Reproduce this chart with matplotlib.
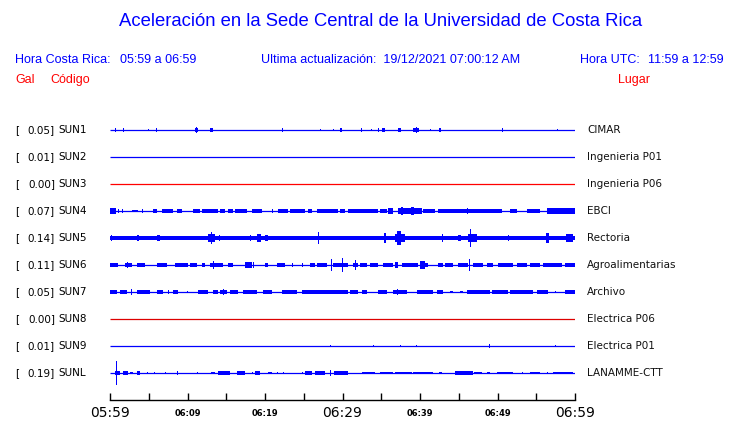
import matplotlib
matplotlib.use("Agg")
import matplotlib.pyplot as plt

# ---------------- data ----------------
stations = ["SUN1", "SUN2", "SUN3", "SUN4", "SUN5", "SUN6", "SUN7", "SUN8", "SUN9", "SUNL"]
peak_gal = [0.05, 0.01, 0.00, 0.07, 0.14, 0.11, 0.05, 0.00, 0.01, 0.19]
places = ["CIMAR", "Ingenieria P01", "Ingenieria P06", "EBCI", "Rectoria",
          "Agroalimentarias", "Archivo", "Electrica P06", "Electrica P01", "LANAMME-CTT"]
trace_colors = ["#0000ff", "#0000ff", "#ff0000", "#0000ff", "#0000ff",
                "#0000ff", "#0000ff", "#dd0000", "#0000ff", "#0000ff"]

time_span = [0, 60]                     # minutes after 05:59
tick_minutes = list(range(0, 61, 5))
tick_labels = ["05:59", "", "06:09", "", "06:19", "", "06:29",
               "", "06:39", "", "06:49", "", "06:59"]
major_labels = ["05:59", "06:29", "06:59"]

# bursts: (start minute, end minute, half amplitude in gal)
sun1 = [(0.65, 0.65, 0.03), (1.68, 1.68, 0.03), (4.9, 5.0, 0.02), (6.0, 6.1, 0.025),
        (11.0, 11.4, 0.03), (11.1, 11.2, 0.045), (12.9, 13.3, 0.035), (22.2, 22.2, 0.025),
        (27.1, 27.1, 0.02), (28.9, 28.9, 0.02), (29.7, 29.9, 0.025), (32.5, 32.5, 0.025),
        (33.7, 33.7, 0.02), (34.6, 34.7, 0.025), (35.1, 35.5, 0.03), (37.2, 37.5, 0.025),
        (39.1, 39.9, 0.03), (39.5, 39.6, 0.05), (41.3, 41.3, 0.02), (42.5, 42.7, 0.03),
        (50.7, 50.7, 0.03), (57.7, 57.7, 0.02)]
sun2 = []
sun3 = []
sun4 = [(0.0, 0.8, 0.045), (1.0, 1.1, 0.03), (1.55, 1.6, 0.025), (2.84, 3.61, 0.02),
        (4.13, 4.2, 0.025), (5.55, 6.06, 0.03), (6.71, 8.13, 0.035), (8.65, 9.29, 0.03),
        (10.71, 11.61, 0.035), (11.87, 13.94, 0.035), (14.19, 14.84, 0.03), (15.23, 15.87, 0.03),
        (16.13, 17.68, 0.035), (18.32, 19.61, 0.03), (20.9, 21.0, 0.03), (21.68, 22.97, 0.03),
        (23.23, 25.16, 0.035), (25.55, 26.06, 0.03), (26.71, 29.42, 0.03), (29.68, 30.32, 0.03),
        (30.71, 34.58, 0.035), (34.84, 35.74, 0.03), (35.87, 36.52, 0.045), (37.16, 40.26, 0.05),
        (37.6, 37.8, 0.07), (38.9, 39.2, 0.065), (40.39, 41.94, 0.035), (42.32, 50.58, 0.035),
        (46.0, 46.2, 0.04), (51.61, 52.52, 0.03), (53.81, 55.48, 0.03), (56.39, 60.0, 0.04),
        (57.0, 57.3, 0.05), (58.8, 59.0, 0.05)]
sun5 = [(0.0, 60.0, 0.035), (0.1, 0.3, 0.05), (3.5, 3.7, 0.05), (6.0, 6.5, 0.055),
        (12.6, 13.6, 0.06), (13.0, 13.15, 0.1), (14.0, 14.2, 0.045), (18.0, 18.2, 0.05),
        (19.0, 19.5, 0.06), (20.0, 20.4, 0.05), (26.8, 26.9, 0.1), (35.3, 35.6, 0.08),
        (36.8, 38.0, 0.06), (37.0, 37.5, 0.11), (42.8, 43.0, 0.07), (44.9, 45.3, 0.055),
        (46.2, 47.4, 0.07), (46.5, 46.6, 0.14), (51.3, 51.5, 0.05), (56.3, 56.6, 0.08),
        (58.9, 59.8, 0.065)]
sun6 = [(0.0, 1.03, 0.03), (1.94, 2.84, 0.03), (2.2, 2.3, 0.045), (3.48, 4.52, 0.03),
        (6.06, 7.35, 0.025), (8.39, 10.06, 0.03), (10.32, 11.23, 0.025), (11.87, 12.26, 0.025),
        (12.9, 14.58, 0.035), (13.3, 13.4, 0.06), (15.23, 15.87, 0.025), (17.42, 18.32, 0.04),
        (18.5, 18.6, 0.04), (20.0, 20.39, 0.03), (21.55, 22.58, 0.03), (23.48, 23.5, 0.025),
        (24.77, 24.8, 0.025), (25.81, 26.45, 0.03), (26.71, 28.0, 0.035), (28.6, 28.65, 0.09),
        (28.77, 30.32, 0.035), (30.0, 30.1, 0.11), (30.32, 30.71, 0.03), (31.35, 31.97, 0.035),
        (31.6, 31.7, 0.08), (32.26, 33.16, 0.025), (33.55, 34.58, 0.025), (35.23, 36.52, 0.03),
        (36.77, 37.16, 0.05), (37.68, 39.74, 0.03), (40.0, 40.65, 0.06), (40.65, 41.0, 0.03),
        (42.32, 42.97, 0.025), (43.23, 44.26, 0.03), (44.9, 46.19, 0.03), (46.4, 46.5, 0.09),
        (46.84, 48.13, 0.03), (48.65, 49.42, 0.025), (50.06, 52.0, 0.025), (52.52, 53.81, 0.03),
        (54.19, 55.48, 0.025), (55.87, 58.32, 0.025), (58.71, 60.0, 0.03)]
sun7 = [(0.0, 0.9, 0.03), (1.29, 2.19, 0.03), (2.7, 2.8, 0.045), (3.48, 5.16, 0.03),
        (6.06, 6.84, 0.025), (7.5, 7.6, 0.025), (8.13, 8.77, 0.03), (9.94, 10.0, 0.02),
        (11.35, 12.65, 0.025), (13.29, 13.94, 0.03), (14.19, 15.1, 0.035), (14.6, 14.7, 0.05),
        (15.48, 16.52, 0.03), (17.16, 18.97, 0.03), (19.74, 20.9, 0.025), (22.19, 24.13, 0.03),
        (24.77, 29.68, 0.03), (29.68, 30.71, 0.035), (30.97, 31.97, 0.025), (32.52, 33.16, 0.025),
        (34.58, 35.74, 0.03), (36.52, 38.32, 0.03), (37.1, 37.2, 0.05), (39.61, 41.68, 0.03),
        (42.19, 42.97, 0.03), (43.87, 44.26, 0.02), (45.16, 45.55, 0.02), (46.06, 49.03, 0.025),
        (49.29, 51.35, 0.025), (51.61, 54.58, 0.025), (55.1, 56.52, 0.025), (57.42, 57.5, 0.02),
        (58.71, 60.0, 0.025)]
sun8 = []
sun9 = [(28.4, 28.4, 0.015), (34.06, 34.06, 0.015), (37.42, 37.42, 0.015),
        (39.61, 39.61, 0.015), (49.03, 49.03, 0.025), (57.42, 57.42, 0.015)]
sunl = [(0.9, 0.9, 0.19), (0.65, 1.29, 0.035), (1.68, 2.32, 0.025), (2.58, 2.97, 0.02),
        (3.48, 3.87, 0.025), (4.77, 4.8, 0.02), (5.68, 5.7, 0.02), (7.1, 7.1, 0.02),
        (8.65, 8.77, 0.025), (11.23, 11.23, 0.015), (13.03, 13.55, 0.02), (13.94, 15.48, 0.025),
        (16.39, 17.42, 0.025), (18.32, 18.4, 0.02), (18.71, 19.35, 0.025), (20.39, 20.9, 0.02),
        (21.55, 21.6, 0.02), (22.32, 22.35, 0.02), (24.77, 24.8, 0.015), (25.16, 26.06, 0.025),
        (26.45, 27.74, 0.025), (28.39, 28.5, 0.045), (28.9, 30.71, 0.025), (32.52, 34.19, 0.02),
        (34.84, 36.52, 0.02), (36.77, 38.97, 0.02), (39.1, 41.68, 0.02), (42.5, 42.8, 0.02),
        (44.52, 46.84, 0.03), (47.0, 48.0, 0.02), (48.6, 49.0, 0.02), (49.94, 52.0, 0.02),
        (53.16, 53.2, 0.02), (54.19, 55.48, 0.02), (56.39, 56.4, 0.02), (57.16, 59.74, 0.02)]
bursts = [sun1, sun2, sun3, sun4, sun5, sun6, sun7, sun8, sun9, sunl]

# ---------------- figure ----------------
W, H = 740, 423
fig = plt.figure(figsize=(W / 100, H / 100), dpi=100)
ax = fig.add_axes([110 / W, (H - 400) / H, 465 / W, 285 / H])

GAIN = 63 / 27          # row units per gal
n = len(stations)
for i, (name, col, b) in enumerate(zip(stations, trace_colors, bursts)):
    row = n - 1 - i
    ax.plot(time_span, [row, row], color=col, lw=0.9, solid_capstyle="butt", zorder=2)
    for t0, t1, a in b:
        w = max(t1 - t0, 0.13)
        ax.bar((t0 + t1) / 2, 2 * a * GAIN, bottom=row - a * GAIN, width=w,
               color=col, linewidth=0, zorder=3)

ax.set_xlim(time_span)
ax.set_ylim(-1.0, n - 1 + 15 / 27)
for s in ["top", "left", "right"]:
    ax.spines[s].set_visible(False)
ax.spines["bottom"].set_linewidth(1.0)
ax.set_yticks([])
ax.set_xticks(tick_minutes)
ax.set_xticklabels(tick_labels)
ax.tick_params(axis="x", direction="in", length=5, width=1.0, pad=9.5)
for lbl in ax.get_xticklabels():
    lbl.set_va("center")
    if lbl.get_text() in major_labels:
        lbl.set_fontsize(10)
        lbl.set_fontfamily("DejaVu Sans")
    else:
        lbl.set_fontsize(6)
        lbl.set_fontweight("bold")

# left and right labels
def fy(px):
    return 1 - px / H

for i in range(n):
    y = fy(130 + 27 * i)
    fig.text(15 / W, y, "[", fontsize=7.5, va="center", ha="left", color="black")
    fig.text(55 / W, y, f"{peak_gal[i]:.2f}]", fontsize=7.5, va="center", ha="right", color="black")
    fig.text(58 / W, y, stations[i], fontsize=7.5, va="center", ha="left", color="black")
    fig.text(587 / W, y, places[i], fontsize=7.5, va="center", ha="left", color="#111111")

# header
hfont = "Liberation Sans"
fig.text(381 / W, fy(22), "Aceleración en la Sede Central de la Universidad de Costa Rica",
         fontsize=13.3, color="#0000ff", ha="center", va="center", family=hfont)
fig.text(15 / W, fy(60), "Hora Costa Rica:", fontsize=9, color="#0000ff",
         ha="left", va="center", family=hfont)
fig.text(120 / W, fy(60), "05:59 a 06:59", fontsize=9, color="#0000ff",
         ha="left", va="center", family=hfont)
fig.text(261 / W, fy(60), "Ultima actualización:  19/12/2021 07:00:12 AM", fontsize=9,
         color="#0000ff", ha="left", va="center", family=hfont)
fig.text(580 / W, fy(60), "Hora UTC:", fontsize=9, color="#0000ff",
         ha="left", va="center", family=hfont)
fig.text(724 / W, fy(60), "11:59 a 12:59", fontsize=9, color="#0000ff",
         ha="right", va="center", family=hfont)
fig.text(15 / W, fy(80), "Gal", fontsize=9, color="#ff0000", ha="left", va="center", family=hfont)
fig.text(50 / W, fy(80), "Código", fontsize=9, color="#ff0000", ha="left", va="center", family=hfont)
fig.text(650 / W, fy(80), "Lugar", fontsize=9, color="#ff0000", ha="right", va="center", family=hfont)

fig.savefig("out.png", dpi=100)
